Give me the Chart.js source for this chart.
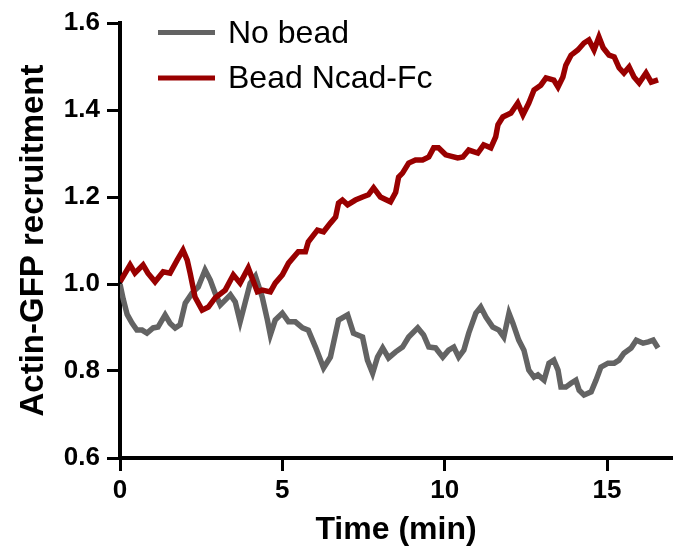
<!DOCTYPE html>
<html>
<head>
<meta charset="utf-8">
<script src="https://cdn.jsdelivr.net/npm/chart.js@4"></script>
<style>
  html, body { margin: 0; padding: 0; background: #ffffff; }
  #wrap { width: 678px; height: 553px; }
</style>
</head>
<body>
<div id="wrap"><canvas id="c" width="678" height="553"></canvas></div>
<script>
// ---- Data ----
const seriesLabels = ["No bead", "Bead Ncad-Fc"];
const xTickValues = [0, 5, 10, 15];
const yTickValues = [0.6, 0.8, 1.0, 1.2, 1.4, 1.6];

const noBeadTime = [0, 0.1, 0.22, 0.37, 0.52, 0.68, 0.83, 1.02, 1.17, 1.39, 1.54, 1.70, 1.85, 2.01, 2.22, 2.41, 2.62, 2.78, 2.93, 3.09, 3.24, 3.40, 3.55, 3.70, 3.86, 4.01, 4.17, 4.38, 4.54, 4.63, 4.78, 5.00, 5.19, 5.40, 5.62, 5.80, 6.02, 6.27, 6.48, 6.73, 7.01, 7.19, 7.47, 7.62, 7.78, 7.93, 8.09, 8.27, 8.49, 8.70, 8.89, 9.17, 9.35, 9.51, 9.72, 9.94, 10.12, 10.28, 10.43, 10.59, 10.74, 10.96, 11.11, 11.27, 11.48, 11.67, 11.82, 11.98, 12.10, 12.28, 12.44, 12.59, 12.75, 12.87, 13.06, 13.21, 13.36, 13.49, 13.58, 13.73, 13.89, 14.04, 14.14, 14.29, 14.51, 14.66, 14.81, 15.03, 15.22, 15.37, 15.52, 15.74, 15.90, 16.11, 16.27, 16.42, 16.57];
const noBeadValues = [1.00, 0.965, 0.930, 0.910, 0.894, 0.894, 0.887, 0.899, 0.901, 0.929, 0.910, 0.899, 0.906, 0.956, 0.979, 0.993, 1.032, 1.009, 0.979, 0.952, 0.963, 0.975, 0.959, 0.913, 0.959, 1.002, 1.018, 0.970, 0.917, 0.883, 0.917, 0.933, 0.913, 0.913, 0.899, 0.894, 0.855, 0.807, 0.832, 0.917, 0.929, 0.887, 0.878, 0.825, 0.795, 0.832, 0.853, 0.830, 0.844, 0.855, 0.878, 0.899, 0.883, 0.855, 0.853, 0.832, 0.848, 0.855, 0.832, 0.848, 0.887, 0.933, 0.947, 0.924, 0.901, 0.894, 0.878, 0.933, 0.910, 0.871, 0.848, 0.802, 0.786, 0.791, 0.779, 0.818, 0.825, 0.802, 0.763, 0.763, 0.772, 0.779, 0.756, 0.745, 0.752, 0.779, 0.809, 0.818, 0.818, 0.825, 0.841, 0.853, 0.871, 0.864, 0.867, 0.871, 0.853];

const beadTime = [0, 0.31, 0.46, 0.71, 0.86, 1.08, 1.33, 1.54, 1.76, 1.94, 2.07, 2.16, 2.31, 2.53, 2.72, 2.93, 3.24, 3.49, 3.70, 3.95, 4.23, 4.38, 4.63, 4.78, 5.00, 5.19, 5.49, 5.71, 5.80, 6.08, 6.27, 6.48, 6.64, 6.73, 6.85, 7.01, 7.25, 7.47, 7.65, 7.81, 8.02, 8.33, 8.49, 8.58, 8.70, 8.89, 9.10, 9.32, 9.51, 9.66, 9.81, 10.03, 10.40, 10.56, 10.74, 11.02, 11.20, 11.42, 11.57, 11.64, 11.79, 12.04, 12.25, 12.41, 12.59, 12.75, 12.96, 13.12, 13.36, 13.49, 13.64, 13.73, 13.89, 14.10, 14.29, 14.44, 14.60, 14.75, 14.88, 15.06, 15.22, 15.37, 15.52, 15.68, 15.83, 15.99, 16.20, 16.36, 16.57];
const beadValues = [1.005, 1.044, 1.025, 1.044, 1.025, 1.005, 1.028, 1.025, 1.055, 1.078, 1.055, 1.025, 0.970, 0.940, 0.947, 0.968, 0.986, 1.021, 1.002, 1.037, 0.982, 0.986, 0.982, 1.002, 1.021, 1.048, 1.074, 1.074, 1.097, 1.124, 1.120, 1.140, 1.154, 1.186, 1.193, 1.182, 1.193, 1.200, 1.205, 1.221, 1.200, 1.189, 1.211, 1.246, 1.255, 1.278, 1.285, 1.285, 1.292, 1.313, 1.313, 1.297, 1.290, 1.292, 1.308, 1.301, 1.320, 1.313, 1.338, 1.366, 1.384, 1.393, 1.416, 1.389, 1.416, 1.446, 1.457, 1.474, 1.469, 1.453, 1.476, 1.503, 1.526, 1.538, 1.554, 1.561, 1.538, 1.568, 1.543, 1.526, 1.522, 1.497, 1.485, 1.499, 1.476, 1.462, 1.485, 1.464, 1.469];

const toPoints = (xs, ys) => xs.map((x, i) => ({ x: x, y: ys[i] }));

const GRAY = "#636363";
const RED = "#990000";

const legendPlugin = {
  id: "insideLegend",
  afterDatasetsDraw(chart) {
    const ctx = chart.ctx;
    const rows = [{ y: 32.5, base: 43 }, { y: 78, base: 88 }];
    ctx.save();
    chart.data.datasets.forEach((ds, i) => {
      const r = rows[i];
      ctx.strokeStyle = ds.borderColor;
      ctx.lineWidth = 5;
      ctx.lineCap = "butt";
      ctx.beginPath();
      ctx.moveTo(158, r.y);
      ctx.lineTo(215, r.y);
      ctx.stroke();
      ctx.fillStyle = "#000";
      ctx.font = "32px 'Liberation Sans', Arial, sans-serif";
      ctx.textAlign = "left";
      ctx.textBaseline = "alphabetic";
      ctx.fillText(ds.label, 228, r.base);
    });
    ctx.restore();
  }
};

new Chart(document.getElementById("c"), {
  type: "line",
  data: {
    datasets: [
      {
        label: seriesLabels[0],
        data: toPoints(noBeadTime, noBeadValues),
        borderColor: GRAY,
        backgroundColor: GRAY,
        borderWidth: 5.5,
        pointRadius: 0,
        tension: 0,
        order: 1
      },
      {
        label: seriesLabels[1],
        data: toPoints(beadTime, beadValues),
        borderColor: RED,
        backgroundColor: RED,
        borderWidth: 5.5,
        pointRadius: 0,
        tension: 0,
        order: 0
      }
    ]
  },
  options: {
    responsive: false,
    animation: false,
    devicePixelRatio: 1,
    layout: { padding: { left: 0, right: 6, top: 23, bottom: 0 } },
    plugins: {
      legend: { display: false },
      tooltip: { enabled: false },
      title: { display: false }
    },
    scales: {
      x: {
        type: "linear",
        min: 0,
        max: 17,
        afterBuildTicks: (axis) => { axis.ticks = xTickValues.map(v => ({ value: v })); },
        afterFit: (axis) => { axis.height = 95; },
        grid: {
          display: true,
          drawOnChartArea: false,
          drawTicks: true,
          tickLength: 13,
          tickWidth: 3,
          tickColor: "#000"
        },
        border: { display: true, color: "#000", width: 4 },
        ticks: {
          color: "#000",
          padding: 4,
          maxRotation: 0,
          font: { family: "'Liberation Sans', Arial, sans-serif", size: 26, weight: "bold" },
          callback: (v) => String(v)
        },
        title: {
          display: true,
          text: "Time (min)",
          color: "#000",
          font: { family: "'Liberation Sans', Arial, sans-serif", size: 32, weight: "bold" },
          padding: { top: 0, bottom: 4 }
        }
      },
      y: {
        type: "linear",
        min: 0.6,
        max: 1.6,
        afterBuildTicks: (axis) => { axis.ticks = yTickValues.map(v => ({ value: v })); },
        afterFit: (axis) => { axis.width = 120; },
        grid: {
          display: true,
          drawOnChartArea: false,
          drawTicks: true,
          tickLength: 13,
          tickWidth: 3,
          tickColor: "#000"
        },
        border: { display: true, color: "#000", width: 4 },
        ticks: {
          color: "#000",
          padding: 7,
          font: { family: "'Liberation Sans', Arial, sans-serif", size: 26, weight: "bold" },
          callback: (v) => Number(v).toFixed(1)
        },
        title: {
          display: true,
          text: "Actin-GFP recruitment",
          color: "#000",
          font: { family: "'Liberation Sans', Arial, sans-serif", size: 33, weight: "bold" },
          padding: { top: 14, bottom: 0 }
        }
      }
    }
  },
  plugins: [legendPlugin]
});
</script>
</body>
</html>
